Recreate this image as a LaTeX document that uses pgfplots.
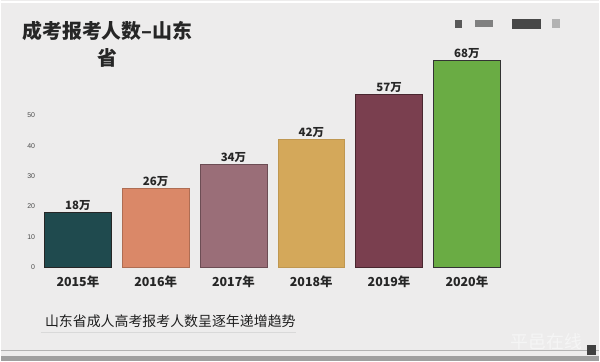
\documentclass[border=0pt]{standalone}
\usepackage{pgfplots}
\pgfplotsset{compat=1.18}
\usepackage{fontspec}
\setmainfont{Liberation Sans}
\newfontfamily\cjk{Noto Sans CJK SC}
\definecolor{bg}{HTML}{EDECEC}
\definecolor{c15}{HTML}{1F4A4E}
\definecolor{c16}{HTML}{DA8868}
\definecolor{c17}{HTML}{9A6E78}
\definecolor{c18}{HTML}{D4A85A}
\definecolor{c19}{HTML}{7A3F4F}
\definecolor{c20}{HTML}{6AAC44}
\begin{document}
\begin{tikzpicture}[x=1bp,y=1bp]
\fill[bg] (0,0) rectangle (600,362);
\draw[white,line width=1.2bp] (0,360) -- (600,360);
% bottom strip
\draw[gray!60,line width=0.6bp] (0,11) -- (600,11);
\fill[gray!75] (0,0) rectangle (600,5);
\fill[black!75] (588,6) rectangle (597,16);
% legend-like blurred marks
\fill[black!65] (455,334) rectangle (462,342);
\fill[black!50] (475,335) rectangle (493,342);
\fill[black!72] (512,333) rectangle (541,343);
\fill[black!30] (552,334) rectangle (561,343);
% title
\node[align=center,font=\cjk\bfseries\fontsize{20}{27}\selectfont,text=black!85] at (107,318) {成考报考人数–山东\\省};
\begin{axis}[
  at={(40bp,94bp)}, anchor=south west,
  scale only axis, width=495bp, height=228.75bp,
  xmin=-0.48, xmax=5.87, ymin=0, ymax=75,
  axis line style={draw=none}, tick style={draw=none},
  ytick={0,10,20,30,40,50},
  yticklabel style={font=\fontsize{7}{8}\selectfont, text=black!70, xshift=-2bp},
  /pgf/number format/assume math mode=true,
  xtick={0,1,2,3,4,5},
  xticklabels={2015年,2016年,2017年,2018年,2019年,2020年},
  xticklabel style={font=\cjk\bfseries\fontsize{12.5}{14}\selectfont, text=black!85, yshift=-1bp},
  ybar, bar width=0.86, bar shift=0pt,
  nodes near coords={\pgfmathprintnumber{\pgfplotspointmeta}万},
  nodes near coords style={font=\cjk\bfseries\fontsize{11.5}{12}\selectfont, text=black!85, inner sep=1.5bp},
]
\addplot[fill=c15, draw=black!85, line width=1bp] coordinates {(0,18)};
\addplot[fill=c16, draw=c16!80!black, line width=0.6bp] coordinates {(1,26)};
\addplot[fill=c17, draw=c17!70!black, line width=0.8bp] coordinates {(2,34)};
\addplot[fill=c18, draw=c18!90!black, line width=0.6bp] coordinates {(3,42)};
\addplot[fill=c19, draw=c19!60!black, line width=0.8bp] coordinates {(4,57)};
\addplot[fill=c20, draw=black!80, line width=1bp] coordinates {(5,68)};
\end{axis}
% footnote
\node[anchor=west,font=\cjk\fontsize{14}{16}\selectfont,text=black!88] at (41,40) {山东省成人高考报考人数呈逐年递增趋势};
\draw[black!15,line width=0.8bp] (40,29) -- (296,29);
\node[anchor=east,font=\cjk\fontsize{18}{20}\selectfont,text=white!96!black] at (586,20) {平邑在线};
\end{tikzpicture}
\end{document}
